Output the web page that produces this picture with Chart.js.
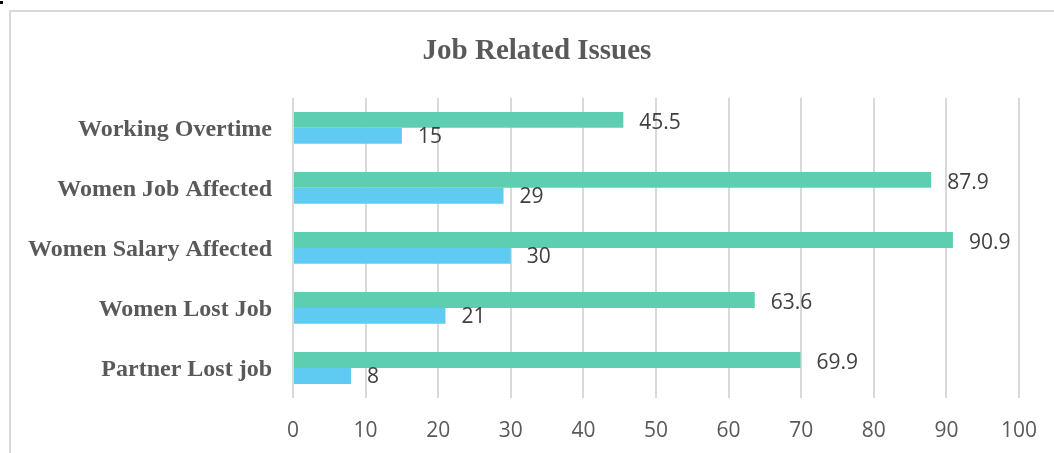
<!DOCTYPE html>
<html>
<head>
<meta charset="utf-8">
<script src="https://cdn.jsdelivr.net/npm/chart.js@4/dist/chart.umd.min.js"></script>
<style>
  html, body { margin: 0; padding: 0; background: #fff; overflow: hidden; }
  #frame { position: absolute; left: 9px; top: 10px; width: 1200px; height: 600px;
           border-left: 2px solid #d9d9d9; border-top: 2px solid #d9d9d9; }
  #dot { position: absolute; left: 0; top: 1px; width: 3px; height: 3px; background: #000; }
  #wrap { position: absolute; left: 0; top: 0; width: 1054px; height: 453px; }
</style>
</head>
<body>
<div id="dot"></div>
<div id="frame"></div>
<div id="wrap"><canvas id="jobChart" width="1054" height="453"></canvas></div>
<script>
        const categories = ['Working Overtime', 'Women Job Affected', 'Women Salary Affected', 'Women Lost Job', 'Partner Lost job'];
        const greenValues = [45.5, 87.9, 90.9, 63.6, 69.9];
        const blueValues = [15, 29, 30, 21, 8];
        const xTicks = [0, 10, 20, 30, 40, 50, 60, 70, 80, 90, 100];

        // value labels to the right of each bar
        const barLabels = {
            id: 'barLabels',
            afterDatasetsDraw(chart) {
                const ctx = chart.ctx;
                ctx.save();
                ctx.font = '21px "Open Sans"';
                ctx.fillStyle = '#404040';
                ctx.textAlign = 'left';
                ctx.textBaseline = 'middle';
                chart.data.datasets.forEach((ds, i) => {
                    chart.getDatasetMeta(i).data.forEach((bar, j) => {
                        ctx.fillText(String(ds.data[j]), bar.x + 16, bar.y + (i === 0 ? 3 : 1));
                    });
                });
                ctx.restore();
            }
        };

        new Chart(document.getElementById('jobChart'), {
            type: 'bar',
            data: {
                labels: categories,
                datasets: [
                    {
                        data: greenValues,
                        backgroundColor: '#5dcfb0',
                        categoryPercentage: 0.53,
                        barPercentage: 1
                    },
                    {
                        data: blueValues,
                        backgroundColor: '#5fcbf2',
                        categoryPercentage: 0.53,
                        barPercentage: 1
                    }
                ]
            },
            options: {
                indexAxis: 'y',
                responsive: false,
                animation: false,
                layout: { padding: { left: 20, right: 0, top: 0, bottom: 10 } },
                plugins: {
                    legend: { display: false },
                    tooltip: { enabled: false },
                    title: {
                        display: true,
                        text: 'Job Related Issues',
                        color: '#595959',
                        font: { family: '"Liberation Serif"', size: 29, weight: 'bold', lineHeight: 1.2 },
                        padding: { top: 34, bottom: 29 }
                    }
                },
                scales: {
                    x: {
                        min: 0,
                        max: 100,
                        afterBuildTicks: (scale) => { scale.ticks = xTicks.map(v => ({ value: v })); },
                        afterFit: (scale) => {
                            scale.height = 45;
                            scale.paddingLeft = 0;
                            scale.paddingRight = 35;
                        },
                        grid: { color: '#d9d9d9', lineWidth: 2, drawTicks: false },
                        border: { display: false },
                        ticks: {
                            color: '#595959',
                            padding: 20,
                            font: { family: '"Open Sans"', size: 21 }
                        }
                    },
                    y: {
                        afterFit: (scale) => { scale.width = 273; },
                        grid: { display: false, drawTicks: false },
                        border: { display: false },
                        ticks: {
                            color: '#595959',
                            padding: 21,
                            labelOffset: 2,
                            font: { family: '"Liberation Serif"', size: 24, weight: 'bold' }
                        }
                    }
                }
            },
            plugins: [barLabels]
        });
</script>
</body>
</html>
